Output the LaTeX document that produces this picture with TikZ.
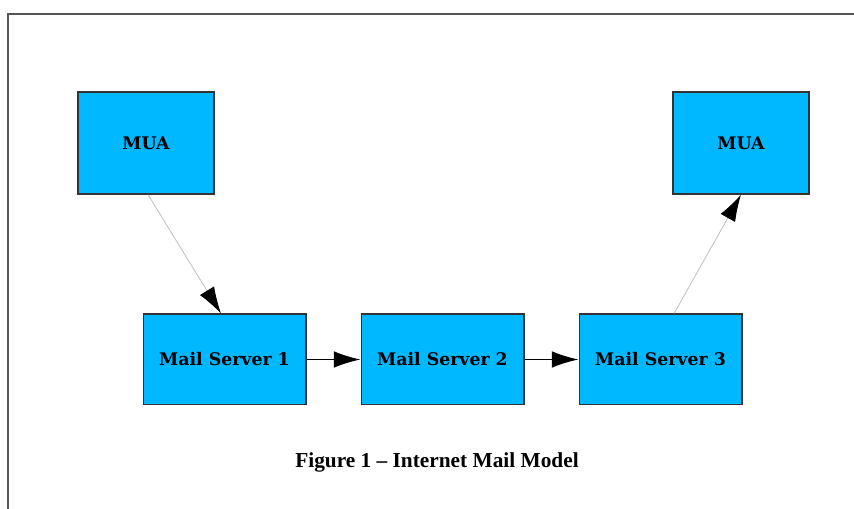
\documentclass[tikz,border=0pt]{standalone}
\usepackage{fontspec}
\setmainfont{DejaVu Serif}
\newfontfamily\capfont{Liberation Serif}
\usetikzlibrary{arrows.meta,calc}
\definecolor{boxblue}{RGB}{0,184,255}
\definecolor{framegray}{RGB}{85,85,85}
\begin{document}
\begin{tikzpicture}[x=0.75pt,y=-0.75pt,
  box/.style={draw=black!80,line width=1pt,fill=boxblue,inner sep=0pt,font=\bfseries\fontsize{13}{15}\selectfont},
  mua/.style={box,minimum width=102pt,minimum height=76.5pt},
  srv/.style={box,minimum width=122pt,minimum height=68pt},
  thinarr/.style={draw=black!25,line width=0.6pt,-{Latex[black,length=20pt,width=12.5pt]}},
  thickarr/.style={draw=black,line width=1.1pt,-{Latex[black,length=20pt,width=12.5pt]}}]
\useasboundingbox (0,0) rectangle (854,509);
\fill[white] (0,0) rectangle (854,509);
\draw[framegray,line width=1.4pt] (854,14) -- (8,14) -- (8,509);
\node[mua] (mua1) at (146,143) {MUA};
\node[mua] (mua2) at (741,143) {MUA};
\node[srv] (ms1) at (224.5,359.5) {Mail Server 1};
\node[srv] (ms2) at (442.5,359.5) {Mail Server 2};
\node[srv] (ms3) at (660.5,359.5) {Mail Server 3};
\draw[thinarr] ($(mua1.south)+(2,0)$) -- ($(ms1.north)+(-3.5,0)$);
\draw[thickarr] (ms1.east) -- (ms2.west);
\draw[thickarr] (ms2.east) -- (ms3.west);
\draw[thinarr] ($(ms3.north)+(13.5,0)$) -- (mua2.south);
\node[font=\capfont\bfseries\fontsize{16}{18}\selectfont] (cap) at (437,462) {Figure 1 – Internet Mail Model};
\end{tikzpicture}
\end{document}
